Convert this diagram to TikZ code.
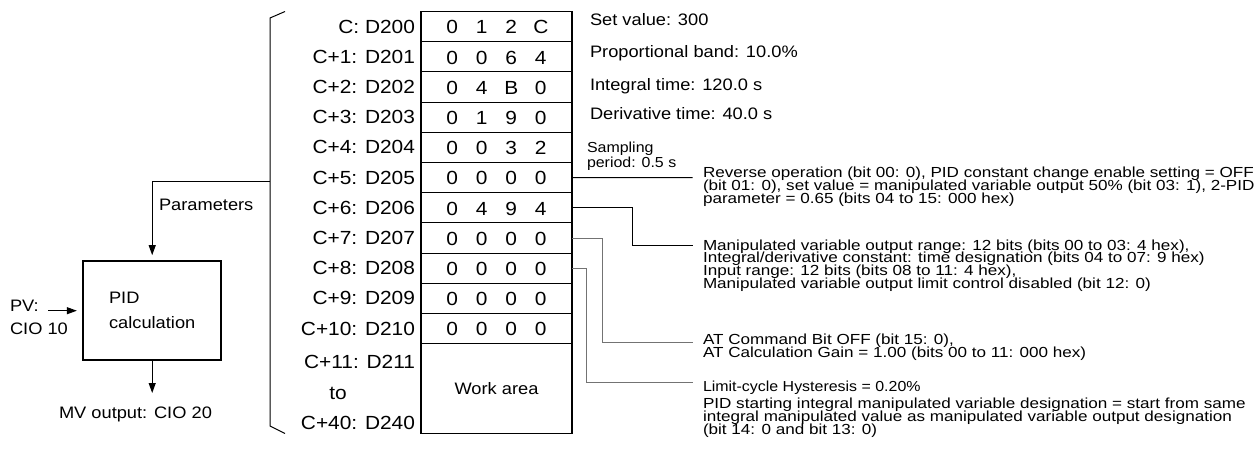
\documentclass[tikz,border=0pt]{standalone}
\usepackage{fontspec}
\setmainfont{Liberation Sans}[FakeStretch=1.1]
\newfontfamily\descfont{Liberation Sans}[FakeStretch=1.17]
\usetikzlibrary{arrows.meta}
\newcommand\tightls{\lineskiplimit=-100pt\relax}
\tikzset{
  every node/.style={inner sep=0pt, outer sep=0pt},
  conn/.style={line width=1pt},
  gconn/.style={line width=1pt, draw=black!55},
  arr/.style={line width=1pt, -{Triangle[length=10pt,width=7pt]}},
  rowbox/.style={draw, line width=1pt, minimum width=151pt, minimum height=30.2pt},
  reglab/.style={anchor=east, font=\fontsize{19}{22}\selectfont},
  digit/.style={font=\fontsize{19}{22}\selectfont},
  note/.style={anchor=base west, font=\fontsize{16.6}{20}\selectfont},
  lbl/.style={font=\fontsize{16.6}{20}\selectfont},
  desc/.style={anchor=north west, align=left, font={\descfont\fontsize{14.6}{12.9}\selectfont\tightls}},
}
\begin{document}
\begin{tikzpicture}[x=1pt,y=-1pt]
\useasboundingbox (0,0) rectangle (1260,453);

% table rows with digits
\foreach \i/\a/\b/\c/\d in {0/0/1/2/C, 1/0/0/6/4, 2/0/4/B/0, 3/0/1/9/0, 4/0/0/3/2, 5/0/0/0/0, 6/0/4/9/4, 7/0/0/0/0, 8/0/0/0/0, 9/0/0/0/0, 10/0/0/0/0} {
  \node[rowbox] (r\i) at (496.5, {26.6+30.2*\i}) {};
  \node[digit] (da\i) at ([xshift=-44.3pt,yshift=-0.7pt]r\i.center) {\a};
  \node[digit] (db\i) at ([xshift=-14.8pt,yshift=-0.7pt]r\i.center) {\b};
  \node[digit] (dc\i) at ([xshift=14.8pt,yshift=-0.7pt]r\i.center) {\c};
  \node[digit] (dd\i) at ([xshift=44.3pt,yshift=-0.7pt]r\i.center) {\d};
}
\node[rowbox, minimum height=89.8pt, lbl] (work) at (496.5,388.6) {Work area};
\draw[line width=1.8pt] (r0.north west) rectangle (work.south east);

% register labels
\foreach \i/\t in {0/C: D200, 1/C+1: D201, 2/C+2: D202, 3/C+3: D203, 4/C+4: D204, 5/C+5: D205, 6/C+6: D206, 7/C+7: D207, 8/C+8: D208, 9/C+9: D209, 10/C+10: D210} {
  \node[reglab] (l\i) at (415, {26.6+30.2*\i}) {\t};
}
\node[reglab] (l11) at (415,361.7) {C+11: D211};
\node[font=\fontsize{19}{22}\selectfont] (lto) at (338,393) {to};
\node[reglab] (l40) at (415,423.3) {C+40: D240};

% bracket
\coordinate (bt) at (285,11.5);
\coordinate (bb) at (285,433.5);
\coordinate (bm) at (270,181);
\draw[conn] (bt) -- (270,18) -- (270,426) -- (bb);

% PID block
\node[draw, line width=1.8pt, minimum width=137.7pt, minimum height=99.3pt, align=left,
      font={\fontsize{16.6}{24.4}\selectfont\tightls}] (pid) at (152.2,310.3) {PID\\calculation};
\draw[arr, shorten >=5.5pt] (bm) -| (pid.north);
\node[note] (par) at (159,210) {Parameters};

\node[anchor=north west, align=left, font={\fontsize{16.6}{23.4}\selectfont\tightls}] (pv) at (10,300) {PV:\\CIO 10};
\coordinate (pvs) at (48,310.7);
\draw[arr, shorten >=6.5pt] (pvs) -- (pvs -| pid.west);

\coordinate (mvt) at (152.2,393);
\draw[arr] (pid.south) -- (mvt);
\node[note] (mv) at (59,418.3) {MV output: CIO 20};

% right notes
\node[note] (n0) at (590,25.1) {Set value: 300};
\node[note] (n1) at (590,57.4) {Proportional band: 10.0\%};
\node[note] (n2) at (590,90.4) {Integral time: 120.0 s};
\node[note] (n3) at (590,119.2) {Derivative time: 40.0 s};
\node[anchor=north west, align=left, font={\fontsize{14.5}{15.4}\selectfont\tightls}] (n4) at (587,141.7) {Sampling\\period: 0.5 s};

% descriptions and connectors
\coordinate (e5) at (692.7,177.6);
\coordinate (e6) at (692.7,245.7);
\coordinate (e7) at (692.7,342.7);
\coordinate (e8) at (692.7,382.7);
\draw[conn] (r5.east) -- (e5);
\draw[conn] (r6.east) -- ++(60.7,0) |- (e6);
\draw[gconn] (r7.east) -- ++(30.3,0) |- (e7);
\draw[gconn] (r8.east) -- ++(14.7,0) |- (e8);

\node[desc] (t5) at (703,167) {Reverse operation (bit 00: 0), PID constant change enable setting = OFF\\(bit 01: 0), set value = manipulated variable output 50\% (bit 03: 1), 2-PID\\parameter = 0.65 (bits 04 to 15: 000 hex)};
\node[desc] (t6) at (703,239.5) {Manipulated variable output range: 12 bits (bits 00 to 03: 4 hex),\\Integral/derivative constant: time designation (bits 04 to 07: 9 hex)\\Input range: 12 bits (bits 08 to 11: 4 hex),\\Manipulated variable output limit control disabled (bit 12: 0)};
\node[desc] (t7) at (703,333.7) {AT Command Bit OFF (bit 15: 0),\\AT Calculation Gain = 1.00 (bits 00 to 11: 000 hex)};
\node[anchor=base west, font=\fontsize{14.5}{15}\selectfont] (t8) at (703,391.2) {Limit-cycle Hysteresis = 0.20\%};
\node[desc] (t9) at (703,397.8) {PID starting integral manipulated variable designation = start from same\\integral manipulated value as manipulated variable output designation\\(bit 14: 0 and bit 13: 0)};
\end{tikzpicture}
\end{document}
